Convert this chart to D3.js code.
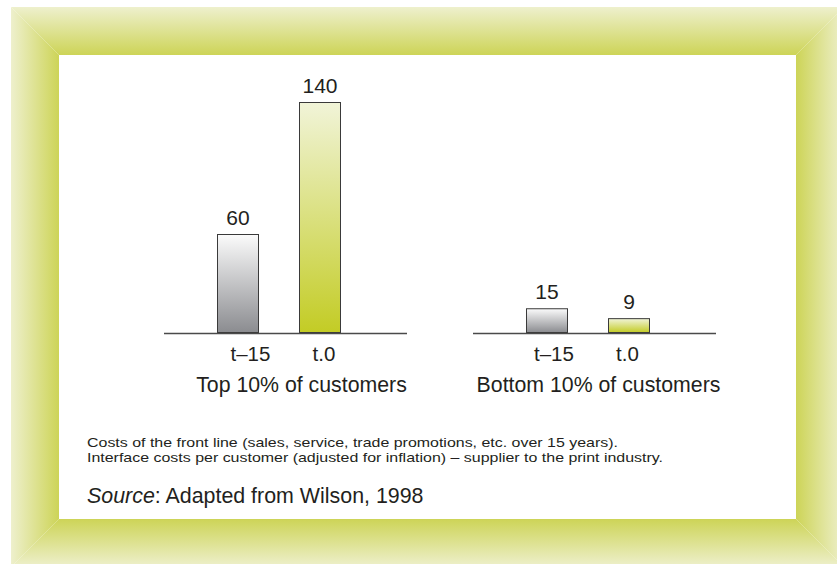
<!DOCTYPE html>
<html>
<head>
<meta charset="utf-8">
<script src="https://cdn.jsdelivr.net/npm/d3@7"></script>
<style>
  body { margin: 0; background: #fff; }
  text { font-family: "Liberation Sans", Arial, Helvetica, sans-serif; fill: #231f20; }
</style>
</head>
<body>
<div id="viz"></div>
<script>
// data
var groups = ["Top 10% of customers", "Bottom 10% of customers"];
var periods = ["t\u201315", "t.0"];
var topValues = [60, 140];
var bottomValues = [15, 9];
var notes = [
  "Costs of the front line (sales, service, trade promotions, etc. over 15 years).",
  "Interface costs per customer (adjusted for inflation) \u2013 supplier to the print industry."
];
var sourceText = ": Adapted from Wilson, 1998";

var width = 837, height = 564;

// label nudges per group, as in the original layout
var tickShift = [13.5, 8];
var groupShift = [16, 4];
var noteWidths = [531, 576];

var svg = d3.select("#viz")
  .append("svg")
  .attr("width", width)
  .attr("height", height);

var defs = svg.append("defs");

// frame: four bevelled sides, light at the outer edge, darker at the inner edge
var outer = {x0: 11, y0: 7, x1: 844, y1: 567},
    inner = {x0: 59, y0: 55, x1: 796, y1: 519};

function frameGrad(id, x1, y1, x2, y2) {
  var g = defs.append("linearGradient").attr("id", id)
    .attr("x1", x1).attr("y1", y1).attr("x2", x2).attr("y2", y2);
  g.append("stop").attr("offset", "0%").attr("stop-color", "#eef0cd");
  g.append("stop").attr("offset", "100%").attr("stop-color", "#cdd457");
}
frameGrad("fTop", 0, 0, 0, 1);
frameGrad("fBottom", 0, 1, 0, 0);
frameGrad("fLeft", 0, 0, 1, 0);
frameGrad("fRight", 1, 0, 0, 0);

var sides = [
  {id: "fTop", pts: [[outer.x0, outer.y0], [outer.x1, outer.y0], [inner.x1, inner.y0], [inner.x0, inner.y0]]},
  {id: "fBottom", pts: [[outer.x0, outer.y1], [outer.x1, outer.y1], [inner.x1, inner.y1], [inner.x0, inner.y1]]},
  {id: "fLeft", pts: [[outer.x0, outer.y0], [inner.x0, inner.y0], [inner.x0, inner.y1], [outer.x0, outer.y1]]},
  {id: "fRight", pts: [[outer.x1, outer.y0], [inner.x1, inner.y0], [inner.x1, inner.y1], [outer.x1, outer.y1]]}
];
svg.selectAll(".side").data(sides).enter().append("polygon")
  .attr("class", "side")
  .attr("points", function(d) { return d.pts.map(function(p) { return p.join(","); }).join(" "); })
  .attr("fill", function(d) { return "url(#" + d.id + ")"; });

svg.append("rect")
  .attr("x", inner.x0).attr("y", inner.y0)
  .attr("width", inner.x1 - inner.x0).attr("height", inner.y1 - inner.y0)
  .attr("fill", "#fff");

// bar gradients
function barGrad(id, top, bottom) {
  var g = defs.append("linearGradient").attr("id", id)
    .attr("x1", 0).attr("y1", 0).attr("x2", 0).attr("y2", 1);
  g.append("stop").attr("offset", "0%").attr("stop-color", top);
  g.append("stop").attr("offset", "100%").attr("stop-color", bottom);
}
barGrad("gGray", "#fbfbfb", "#8b8c90");
barGrad("gGreen", "#f1f4d8", "#c3cc25");

// scales
var x0 = d3.scaleBand()
  .domain(groups)
  .range([164, 716])
  .paddingInner(66 / 309);

var x1 = d3.scaleBand()
  .domain(periods)
  .range([53, 177])
  .paddingInner(40 / 82);

var y = d3.scaleLinear()
  .domain([0, 140])
  .range([333, 102]);

var data = groups.map(function(g, i) {
  var vals = i === 0 ? topValues : bottomValues;
  return {group: g, idx: i, bars: periods.map(function(p, j) { return {period: p, value: vals[j], gi: i}; })};
});

var grp = svg.selectAll(".group").data(data).enter().append("g")
  .attr("class", "group")
  .attr("transform", function(d) { return "translate(" + x0(d.group) + ",0)"; });

grp.selectAll("rect").data(function(d) { return d.bars; }).enter().append("rect")
  .attr("x", function(d) { return x1(d.period) + 0.5; })
  .attr("y", function(d) { return y(d.value) + 0.5; })
  .attr("width", x1.bandwidth() - 1)
  .attr("height", function(d) { return y(0) - y(d.value) - 1; })
  .attr("fill", function(d, j) { return j === 0 ? "url(#gGray)" : "url(#gGreen)"; })
  .attr("stroke", "#3a3a3a")
  .attr("stroke-width", 1);

// baseline
grp.append("line")
  .attr("x1", 0).attr("x2", x0.bandwidth())
  .attr("y1", y(0) + 0.5).attr("y2", y(0) + 0.5)
  .attr("stroke", "#4a4a4a")
  .attr("stroke-width", 1.5);

// value labels
grp.selectAll(".val").data(function(d) { return d.bars; }).enter().append("text")
  .attr("class", "val")
  .attr("x", function(d) { return x1(d.period) + x1.bandwidth() / 2; })
  .attr("y", function(d) { return y(d.value) - 9; })
  .attr("text-anchor", "middle")
  .style("font-size", "21px")
  .text(function(d) { return d.value; });

// period labels (sit a little right of the bar)
grp.selectAll(".per").data(function(d) { return d.bars; }).enter().append("text")
  .attr("class", "per")
  .attr("x", function(d) { return x1(d.period) + tickShift[d.gi]; })
  .attr("y", 361)
  .style("font-size", "20.5px")
  .text(function(d) { return d.period; });

// group labels
grp.append("text")
  .attr("x", function(d) { return x0.bandwidth() / 2 + groupShift[d.idx]; })
  .attr("y", 392)
  .attr("text-anchor", "middle")
  .style("font-size", "21.3px")
  .text(function(d) { return d.group; });

// notes
svg.selectAll(".note").data(notes).enter().append("text")
  .attr("class", "note")
  .attr("x", 87)
  .attr("y", function(d, i) { return 447 + i * 14.5; })
  .attr("textLength", function(d, i) { return noteWidths[i]; })
  .attr("lengthAdjust", "spacingAndGlyphs")
  .style("font-size", "13.6px")
  .text(function(d) { return d; });

var src = svg.append("text")
  .attr("x", 87)
  .attr("y", 503)
  .style("font-size", "21.4px");
src.append("tspan").style("font-style", "italic").text("Source");
src.append("tspan").text(sourceText);
</script>
</body>
</html>
